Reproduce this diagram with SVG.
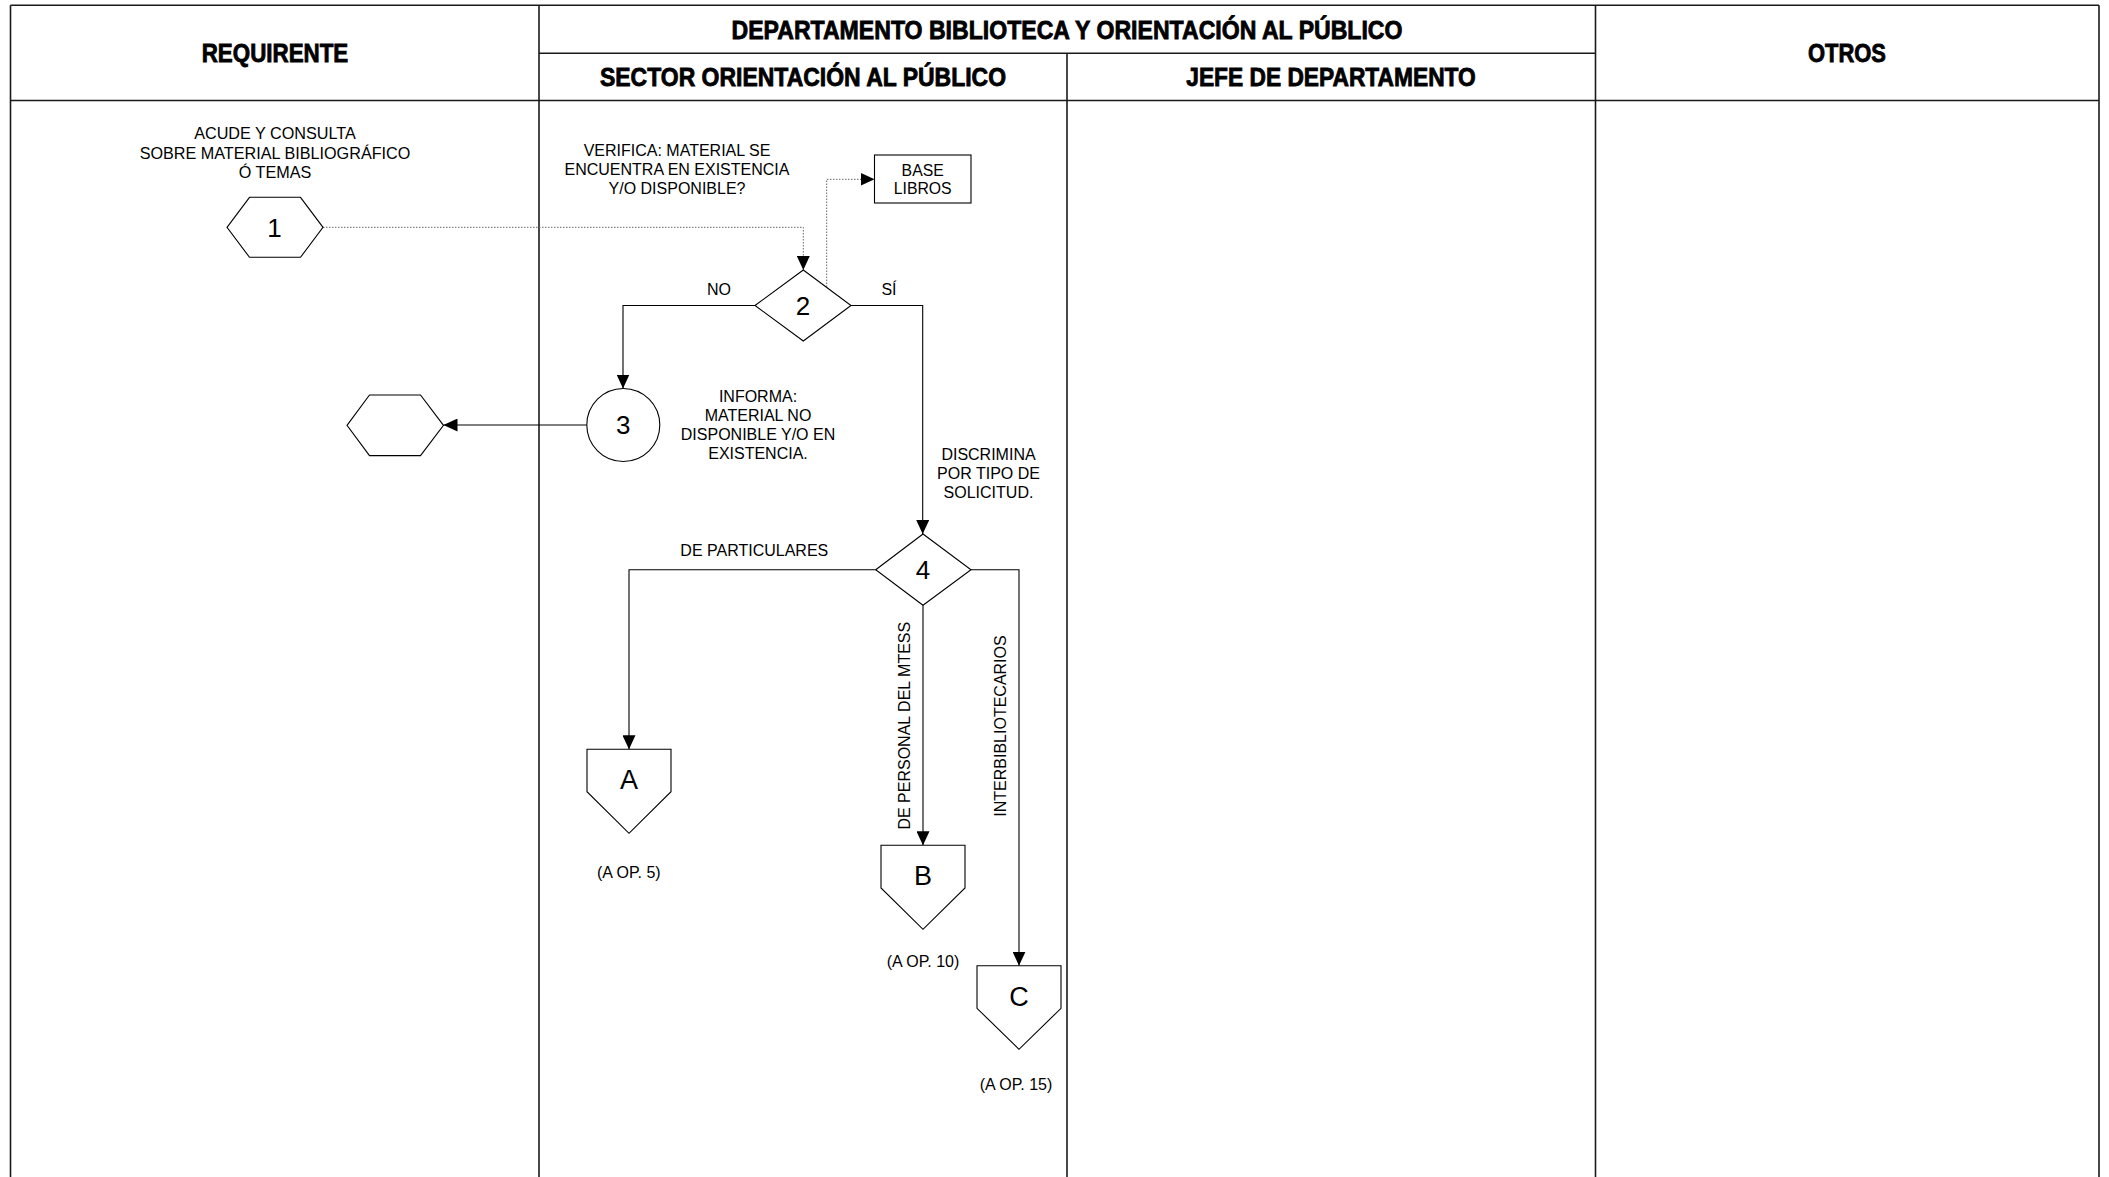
<svg xmlns="http://www.w3.org/2000/svg" width="2109" height="1177" viewBox="0 0 2109 1177">
<style>
.grid{stroke:#1a1a1a;stroke-width:1.6;fill:none}
.hd{font-family:"Liberation Sans",Arial,sans-serif;font-weight:bold;font-size:25px;fill:#000;stroke:#000;stroke-width:0.8;text-anchor:middle}
.t{font-family:"Liberation Sans",Arial,sans-serif;font-size:16px;fill:#000;text-anchor:middle}
.num{font-family:"Liberation Sans",Arial,sans-serif;font-size:26px;fill:#000;text-anchor:middle}
.let{font-family:"Liberation Sans",Arial,sans-serif;font-size:27px;fill:#000;text-anchor:middle}
.shape{fill:#fff;stroke:#000;stroke-width:1.1}
.conn{fill:none;stroke:#000;stroke-width:1.1}
.dot{fill:none;stroke:#666;stroke-width:1;stroke-dasharray:1.5 1.5}
</style>
<defs>
<marker id="arr" markerUnits="userSpaceOnUse" markerWidth="14" markerHeight="13" refX="14" refY="6.5" orient="auto">
<path d="M0,0 L14,6.5 L0,13 z" fill="#000"/>
</marker>
</defs>
<rect width="2109" height="1177" fill="#fff"/>
<g id="table">
<line class="grid" x1="10.5" y1="5.3" x2="2099" y2="5.3"/>
<line class="grid" x1="10.5" y1="100.5" x2="2099" y2="100.5"/>
<line class="grid" x1="539" y1="53.3" x2="1595.5" y2="53.3"/>
<line class="grid" x1="10.5" y1="5.3" x2="10.5" y2="1177"/>
<line class="grid" x1="539" y1="5.3" x2="539" y2="1177"/>
<line class="grid" x1="1067" y1="53.3" x2="1067" y2="1177"/>
<line class="grid" x1="1595.5" y1="5.3" x2="1595.5" y2="1177"/>
<line class="grid" x1="2099" y1="5.3" x2="2099" y2="1177"/>
<text class="hd" x="275" y="61.5" textLength="146.6" lengthAdjust="spacingAndGlyphs">REQUIRENTE</text>
<text class="hd" x="1067" y="38.5" textLength="671" lengthAdjust="spacingAndGlyphs">DEPARTAMENTO BIBLIOTECA Y ORIENTACIÓN AL PÚBLICO</text>
<text class="hd" x="803" y="85.5" textLength="406" lengthAdjust="spacingAndGlyphs">SECTOR ORIENTACIÓN AL PÚBLICO</text>
<text class="hd" x="1331" y="85.5" textLength="289.5" lengthAdjust="spacingAndGlyphs">JEFE DE DEPARTAMENTO</text>
<text class="hd" x="1847" y="61.5" textLength="78" lengthAdjust="spacingAndGlyphs">OTROS</text>
</g>
<g id="connectors">
<polyline class="dot" points="323,227.3 803.3,227.3 803.3,270" marker-end="url(#arr)"/>
<polyline class="dot" points="826.7,287 826.7,179.3 874.5,179.3" marker-end="url(#arr)"/>
<polyline class="conn" points="755,305.5 623,305.5 623,388.5" marker-end="url(#arr)"/>
<polyline class="conn" points="586.8,425 443.5,425" marker-end="url(#arr)"/>
<polyline class="conn" points="851,305.5 922.7,305.5 922.7,534" marker-end="url(#arr)"/>
<polyline class="conn" points="875.7,569.7 629,569.7 629,749.3" marker-end="url(#arr)"/>
<polyline class="conn" points="923,605.3 923,845.3" marker-end="url(#arr)"/>
<polyline class="conn" points="971,569.7 1019,569.7 1019,965.7" marker-end="url(#arr)"/>
<text class="t" x="719" y="295">NO</text>
<text class="t" x="889" y="295">SÍ</text>
<text class="t" x="754.3" y="555.7">DE PARTICULARES</text>
<text class="t" transform="translate(910,725.7) rotate(-90)">DE PERSONAL DEL MTESS</text>
<text class="t" transform="translate(1006,726) rotate(-90)">INTERBIBLIOTECARIOS</text>
</g>
<g id="node1">
<polygon class="shape" points="227,227.3 249.5,197.3 300.5,197.3 323,227.3 300.5,257.3 249.5,257.3"/>
<text class="num" x="274.5" y="236.5">1</text>
<text class="t" x="275" y="139" style="font-size:16.2px">ACUDE Y CONSULTA</text>
<text class="t" x="275" y="158.7" style="font-size:16.2px">SOBRE MATERIAL BIBLIOGRÁFICO</text>
<text class="t" x="275" y="178.4" style="font-size:16.2px">Ó TEMAS</text>
</g>
<g id="node2">
<polygon class="shape" points="755,305.5 803.3,270 851,305.5 803.3,341"/>
<text class="num" x="803" y="314.5">2</text>
<text class="t" x="677" y="156">VERIFICA: MATERIAL SE</text>
<text class="t" x="677" y="175">ENCUENTRA EN EXISTENCIA</text>
<text class="t" x="677" y="194">Y/O DISPONIBLE?</text>
</g>
<g id="base-libros">
<rect class="shape" x="874.5" y="155" width="96.5" height="48"/>
<text class="t" x="922.7" y="175.7" style="font-size:15.8px">BASE</text>
<text class="t" x="922.7" y="194.3" style="font-size:15.8px">LIBROS</text>
</g>
<g id="node3">
<circle class="shape" cx="623.3" cy="425" r="36.5"/>
<text class="num" x="623.3" y="434.3">3</text>
<text class="t" x="758" y="402.3">INFORMA:</text>
<text class="t" x="758" y="421">MATERIAL NO</text>
<text class="t" x="758" y="440">DISPONIBLE Y/O EN</text>
<text class="t" x="758" y="459">EXISTENCIA.</text>
</g>
<g id="end-hexagon">
<polygon class="shape" points="347,425.3 369.5,395 420.5,395 443.5,425.3 420.5,455.6 369.5,455.6"/>
</g>
<g id="node4">
<polygon class="shape" points="875.7,569.7 923,534 971,569.7 923,605.3"/>
<text class="num" x="923" y="579">4</text>
<text class="t" x="988.5" y="459.5">DISCRIMINA</text>
<text class="t" x="988.5" y="478.5">POR TIPO DE</text>
<text class="t" x="988.5" y="497.5">SOLICITUD.</text>
</g>
<g id="connector-A">
<polygon class="shape" points="587,749.3 671,749.3 671,791.7 629,833.3 587,791.7"/>
<text class="let" x="629" y="789">A</text>
<text class="t" x="628.8" y="878.3">(A OP. 5)</text>
</g>
<g id="connector-B">
<polygon class="shape" points="881,845.3 965,845.3 965,888 923,929.3 881,888"/>
<text class="let" x="923" y="885.3">B</text>
<text class="t" x="923" y="967.3">(A OP. 10)</text>
</g>
<g id="connector-C">
<polygon class="shape" points="977,965.7 1061,965.7 1061,1008.3 1019,1049.3 977,1008.3"/>
<text class="let" x="1019" y="1005.7">C</text>
<text class="t" x="1016" y="1090">(A OP. 15)</text>
</g>
</svg>
